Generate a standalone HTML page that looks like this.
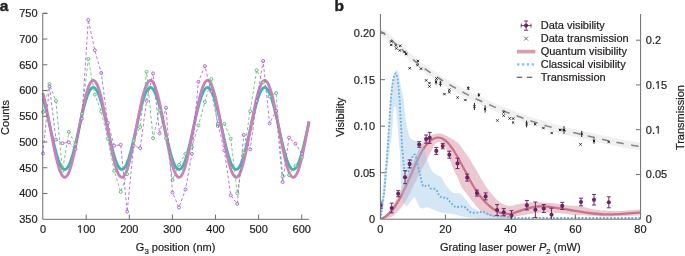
<!DOCTYPE html>
<html><head><meta charset="utf-8"><style>
html,body{margin:0;padding:0;background:#fff;}
svg{display:block;will-change:transform;}
text{font-family:"Liberation Sans",sans-serif;fill:#231f20;stroke:#231f20;stroke-width:0.22px;stroke-linejoin:round;}
</style></head><body>
<svg width="685" height="256" viewBox="0 0 685 256">
<path d="M42.90,98.36 L43.57,100.47 L44.23,102.73 L44.90,105.13 L45.56,107.65 L46.23,110.29 L46.89,113.02 L47.56,115.84 L48.22,118.72 L48.89,121.66 L49.55,124.63 L50.22,127.62 L50.88,130.62 L51.55,133.61 L52.21,136.57 L52.88,139.48 L53.54,142.34 L54.21,145.12 L54.87,147.82 L55.54,150.41 L56.20,152.88 L56.87,155.22 L57.54,157.43 L58.20,159.47 L58.87,161.35 L59.53,163.06 L60.20,164.58 L60.86,165.90 L61.53,167.03 L62.19,167.95 L62.86,168.66 L63.52,169.16 L64.19,169.44 L64.85,169.49 L65.52,169.33 L66.18,168.96 L66.85,168.36 L67.51,167.55 L68.18,166.54 L68.84,165.32 L69.51,163.90 L70.18,162.29 L70.84,160.51 L71.51,158.55 L72.17,156.43 L72.84,154.16 L73.50,151.76 L74.17,149.23 L74.83,146.59 L75.50,143.85 L76.16,141.03 L76.83,138.14 L77.49,135.21 L78.16,132.23 L78.82,129.24 L79.49,126.24 L80.15,123.26 L80.82,120.30 L81.48,117.39 L82.15,114.53 L82.81,111.75 L83.48,109.06 L84.15,106.48 L84.81,104.01 L85.48,101.67 L86.14,99.48 L86.81,97.44 L87.47,95.57 L88.14,93.87 L88.80,92.36 L89.47,91.04 L90.13,89.92 L90.80,89.01 L91.46,88.31 L92.13,87.83 L92.79,87.56 L93.46,87.51 L94.12,87.68 L94.79,88.07 L95.45,88.67 L96.12,89.49 L96.79,90.52 L97.45,91.74 L98.12,93.17 L98.78,94.79 L99.45,96.58 L100.11,98.55 L100.78,100.67 L101.44,102.95 L102.11,105.36 L102.77,107.89 L103.44,110.54 L104.10,113.28 L104.77,116.10 L105.43,118.99 L106.10,121.93 L106.76,124.91 L107.43,127.90 L108.09,130.90 L108.76,133.88 L109.43,136.84 L110.09,139.75 L110.76,142.60 L111.42,145.37 L112.09,148.06 L112.75,150.64 L113.42,153.10 L114.08,155.43 L114.75,157.62 L115.41,159.65 L116.08,161.52 L116.74,163.20 L117.41,164.71 L118.07,166.02 L118.74,167.12 L119.40,168.03 L120.07,168.72 L120.73,169.19 L121.40,169.45 L122.06,169.49 L122.73,169.31 L123.40,168.91 L124.06,168.30 L124.73,167.47 L125.39,166.43 L126.06,165.19 L126.72,163.76 L127.39,162.14 L128.05,160.33 L128.72,158.36 L129.38,156.23 L130.05,153.94 L130.71,151.53 L131.38,148.99 L132.04,146.34 L132.71,143.59 L133.37,140.77 L134.04,137.87 L134.70,134.93 L135.37,131.96 L136.03,128.96 L136.70,125.96 L137.37,122.98 L138.03,120.03 L138.70,117.12 L139.36,114.27 L140.03,111.50 L140.69,108.82 L141.36,106.24 L142.02,103.79 L142.69,101.46 L143.35,99.28 L144.02,97.26 L144.68,95.40 L145.35,93.72 L146.01,92.23 L146.68,90.93 L147.34,89.83 L148.01,88.94 L148.67,88.26 L149.34,87.79 L150.01,87.54 L150.67,87.51 L151.34,87.71 L152.00,88.11 L152.67,88.74 L153.33,89.58 L154.00,90.62 L154.66,91.87 L155.33,93.31 L155.99,94.94 L156.66,96.76 L157.32,98.74 L157.99,100.88 L158.65,103.16 L159.32,105.59 L159.98,108.13 L160.65,110.79 L161.31,113.54 L161.98,116.37 L162.65,119.26 L163.31,122.20 L163.98,125.18 L164.64,128.18 L165.31,131.17 L165.97,134.16 L166.64,137.11 L167.30,140.01 L167.97,142.86 L168.63,145.63 L169.30,148.30 L169.96,150.87 L170.63,153.32 L171.29,155.64 L171.96,157.82 L172.62,159.83 L173.29,161.68 L173.95,163.35 L174.62,164.84 L175.28,166.13 L175.95,167.22 L176.62,168.10 L177.28,168.77 L177.95,169.22 L178.61,169.46 L179.28,169.48 L179.94,169.28 L180.61,168.86 L181.27,168.23 L181.94,167.38 L182.60,166.33 L183.27,165.07 L183.93,163.62 L184.60,161.98 L185.26,160.16 L185.93,158.17 L186.59,156.02 L187.26,153.73 L187.92,151.30 L188.59,148.75 L189.26,146.09 L189.92,143.33 L190.59,140.50 L191.25,137.60 L191.92,134.66 L192.58,131.68 L193.25,128.68 L193.91,125.69 L194.58,122.71 L195.24,119.76 L195.91,116.85 L196.57,114.01 L197.24,111.25 L197.90,108.58 L198.57,106.01 L199.23,103.57 L199.90,101.25 L200.56,99.09 L201.23,97.08 L201.89,95.24 L202.56,93.58 L203.23,92.10 L203.89,90.82 L204.56,89.74 L205.22,88.87 L205.89,88.20 L206.55,87.76 L207.22,87.53 L207.88,87.52 L208.55,87.73 L209.21,88.16 L209.88,88.81 L210.54,89.66 L211.21,90.73 L211.87,91.99 L212.54,93.46 L213.20,95.10 L213.87,96.93 L214.53,98.93 L215.20,101.08 L215.87,103.38 L216.53,105.82 L217.20,108.37 L217.86,111.04 L218.53,113.80 L219.19,116.63 L219.86,119.53 L220.52,122.48 L221.19,125.46 L221.85,128.45 L222.52,131.45 L223.18,134.43 L223.85,137.38 L224.51,140.28 L225.18,143.12 L225.84,145.88 L226.51,148.55 L227.17,151.11 L227.84,153.54 L228.50,155.85 L229.17,158.01 L229.84,160.01 L230.50,161.84 L231.17,163.50 L231.83,164.96 L232.50,166.24 L233.16,167.31 L233.83,168.17 L234.49,168.82 L235.16,169.26 L235.82,169.47 L236.49,169.47 L237.15,169.25 L237.82,168.81 L238.48,168.16 L239.15,167.29 L239.81,166.22 L240.48,164.94 L241.14,163.47 L241.81,161.82 L242.47,159.98 L243.14,157.98 L243.81,155.82 L244.47,153.51 L245.14,151.07 L245.80,148.51 L246.47,145.84 L247.13,143.08 L247.80,140.24 L248.46,137.33 L249.13,134.38 L249.79,131.40 L250.46,128.41 L251.12,125.41 L251.79,122.43 L252.45,119.49 L253.12,116.59 L253.78,113.75 L254.45,111.00 L255.11,108.33 L255.78,105.78 L256.45,103.35 L257.11,101.05 L257.78,98.90 L258.44,96.90 L259.11,95.08 L259.77,93.43 L260.44,91.97 L261.10,90.71 L261.77,89.65 L262.43,88.80 L263.10,88.15 L263.76,87.73 L264.43,87.52 L265.09,87.53 L265.76,87.76 L266.42,88.21 L267.09,88.88 L267.75,89.75 L268.42,90.84 L269.09,92.12 L269.75,93.60 L270.42,95.27 L271.08,97.11 L271.75,99.12 L272.41,101.29 L273.08,103.60 L273.74,106.05 L274.41,108.62 L275.07,111.29 L275.74,114.05 L276.40,116.90 L277.07,119.80 L277.73,122.75 L278.40,125.73 L279.06,128.73 L279.73,131.73 L280.39,134.70 L281.06,137.65 L281.72,140.55 L282.39,143.38 L283.06,146.13 L283.72,148.79 L284.39,151.34 L285.05,153.76 L285.72,156.06 L286.38,158.20 L287.05,160.19 L287.71,162.00 L288.38,163.64 L289.04,165.09 L289.71,166.34 L290.37,167.40 L291.04,168.24 L291.70,168.87 L292.37,169.29 L293.03,169.48 L293.70,169.46 L294.36,169.22 L295.03,168.76 L295.70,168.09 L296.36,167.20 L297.03,166.11 L297.69,164.82 L298.36,163.33 L299.02,161.65 L299.69,159.80 L300.35,157.78 L301.02,155.61 L301.68,153.29 L302.35,150.83 L303.01,148.26 L303.68,145.58 L304.34,142.82 L305.01,139.97 L305.67,137.06 L306.34,134.11 L307.00,131.13 L307.67,128.13 L308.33,125.14 L309.00,122.16" fill="none" stroke="#3db4b0" stroke-width="2.8"/>
<path d="M42.90,93.23 L43.57,95.73 L44.23,98.40 L44.90,101.23 L45.56,104.22 L46.23,107.33 L46.89,110.56 L47.56,113.89 L48.22,117.29 L48.89,120.76 L49.55,124.28 L50.22,127.81 L50.88,131.36 L51.55,134.88 L52.21,138.38 L52.88,141.83 L53.54,145.20 L54.21,148.49 L54.87,151.68 L55.54,154.74 L56.20,157.66 L56.87,160.43 L57.54,163.03 L58.20,165.45 L58.87,167.67 L59.53,169.69 L60.20,171.48 L60.86,173.05 L61.53,174.38 L62.19,175.47 L62.86,176.31 L63.52,176.89 L64.19,177.22 L64.85,177.29 L65.52,177.10 L66.18,176.66 L66.85,175.95 L67.51,175.00 L68.18,173.80 L68.84,172.36 L69.51,170.68 L70.18,168.78 L70.84,166.67 L71.51,164.36 L72.17,161.85 L72.84,159.17 L73.50,156.33 L74.17,153.34 L74.83,150.22 L75.50,146.99 L76.16,143.66 L76.83,140.25 L77.49,136.77 L78.16,133.26 L78.82,129.72 L79.49,126.18 L80.15,122.65 L80.82,119.16 L81.48,115.72 L82.15,112.34 L82.81,109.06 L83.48,105.88 L84.15,102.82 L84.81,99.91 L85.48,97.15 L86.14,94.55 L86.81,92.14 L87.47,89.93 L88.14,87.93 L88.80,86.14 L89.47,84.58 L90.13,83.26 L90.80,82.19 L91.46,81.36 L92.13,80.78 L92.79,80.47 L93.46,80.41 L94.12,80.61 L94.79,81.07 L95.45,81.78 L96.12,82.75 L96.79,83.96 L97.45,85.42 L98.12,87.10 L98.78,89.01 L99.45,91.13 L100.11,93.45 L100.78,95.97 L101.44,98.65 L102.11,101.50 L102.77,104.50 L103.44,107.62 L104.10,110.86 L104.77,114.20 L105.43,117.61 L106.10,121.09 L106.76,124.60 L107.43,128.14 L108.09,131.68 L108.76,135.21 L109.43,138.70 L110.09,142.14 L110.76,145.51 L111.42,148.79 L112.09,151.96 L112.75,155.01 L113.42,157.92 L114.08,160.68 L114.75,163.26 L115.41,165.66 L116.08,167.87 L116.74,169.86 L117.41,171.64 L118.07,173.18 L118.74,174.49 L119.40,175.56 L120.07,176.37 L120.73,176.94 L121.40,177.24 L122.06,177.29 L122.73,177.07 L123.40,176.60 L124.06,175.88 L124.73,174.90 L125.39,173.67 L126.06,172.21 L126.72,170.52 L127.39,168.60 L128.05,166.47 L128.72,164.13 L129.38,161.61 L130.05,158.92 L130.71,156.06 L131.38,153.06 L132.04,149.93 L132.71,146.68 L133.37,143.34 L134.04,139.93 L134.70,136.45 L135.37,132.93 L136.03,129.40 L136.70,125.85 L137.37,122.33 L138.03,118.84 L138.70,115.40 L139.36,112.04 L140.03,108.76 L140.69,105.59 L141.36,102.55 L142.02,99.65 L142.69,96.90 L143.35,94.32 L144.02,91.93 L144.68,89.74 L145.35,87.75 L146.01,85.99 L146.68,84.45 L147.34,83.15 L148.01,82.10 L148.67,81.29 L149.34,80.74 L150.01,80.45 L150.67,80.42 L151.34,80.64 L152.00,81.13 L152.67,81.86 L153.33,82.85 L154.00,84.09 L154.66,85.56 L155.33,87.27 L155.99,89.20 L156.66,91.34 L157.32,93.68 L157.99,96.21 L158.65,98.91 L159.32,101.77 L159.98,104.78 L160.65,107.92 L161.31,111.17 L161.98,114.51 L162.65,117.93 L163.31,121.41 L163.98,124.93 L164.64,128.47 L165.31,132.01 L165.97,135.53 L166.64,139.02 L167.30,142.46 L167.97,145.82 L168.63,149.09 L169.30,152.25 L169.96,155.29 L170.63,158.19 L171.29,160.92 L171.96,163.49 L172.62,165.87 L173.29,168.06 L173.95,170.03 L174.62,171.79 L175.28,173.31 L175.95,174.60 L176.62,175.64 L177.28,176.44 L177.95,176.97 L178.61,177.26 L179.28,177.28 L179.94,177.04 L180.61,176.55 L181.27,175.80 L181.94,174.80 L182.60,173.55 L183.27,172.06 L183.93,170.35 L184.60,168.41 L185.26,166.26 L185.93,163.91 L186.59,161.37 L187.26,158.66 L187.92,155.79 L188.59,152.78 L189.26,149.63 L189.92,146.38 L190.59,143.03 L191.25,139.61 L191.92,136.13 L192.58,132.61 L193.25,129.07 L193.91,125.53 L194.58,122.00 L195.24,118.52 L195.91,115.09 L196.57,111.73 L197.24,108.46 L197.90,105.31 L198.57,102.27 L199.23,99.38 L199.90,96.65 L200.56,94.09 L201.23,91.72 L201.89,89.54 L202.56,87.58 L203.23,85.84 L203.89,84.32 L204.56,83.04 L205.22,82.01 L205.89,81.23 L206.55,80.71 L207.22,80.44 L207.88,80.43 L208.55,80.68 L209.21,81.18 L209.88,81.94 L210.54,82.96 L211.21,84.21 L211.87,85.71 L212.54,87.44 L213.20,89.39 L213.87,91.54 L214.53,93.90 L215.20,96.45 L215.87,99.17 L216.53,102.05 L217.20,105.07 L217.86,108.21 L218.53,111.47 L219.19,114.82 L219.86,118.25 L220.52,121.73 L221.19,125.26 L221.85,128.80 L222.52,132.34 L223.18,135.86 L223.85,139.34 L224.51,142.77 L225.18,146.12 L225.84,149.39 L226.51,152.54 L227.17,155.56 L227.84,158.45 L228.50,161.17 L229.17,163.72 L229.84,166.09 L230.50,168.25 L231.17,170.21 L231.83,171.94 L232.50,173.44 L233.16,174.71 L233.83,175.73 L234.49,176.50 L235.16,177.01 L235.82,177.27 L236.49,177.27 L237.15,177.01 L237.82,176.49 L238.48,175.71 L239.15,174.69 L239.81,173.42 L240.48,171.91 L241.14,170.18 L241.81,168.22 L242.47,166.05 L243.14,163.68 L243.81,161.13 L244.47,158.40 L245.14,155.52 L245.80,152.49 L246.47,149.34 L247.13,146.07 L247.80,142.72 L248.46,139.29 L249.13,135.80 L249.79,132.28 L250.46,128.74 L251.12,125.20 L251.79,121.68 L252.45,118.20 L253.12,114.77 L253.78,111.42 L254.45,108.17 L255.11,105.02 L255.78,102.00 L256.45,99.13 L257.11,96.41 L257.78,93.87 L258.44,91.51 L259.11,89.35 L259.77,87.41 L260.44,85.69 L261.10,84.19 L261.77,82.94 L262.43,81.93 L263.10,81.17 L263.76,80.67 L264.43,80.43 L265.09,80.44 L265.76,80.71 L266.42,81.24 L267.09,82.03 L267.75,83.06 L268.42,84.34 L269.09,85.86 L269.75,87.61 L270.42,89.58 L271.08,91.75 L271.75,94.13 L272.41,96.69 L273.08,99.43 L273.74,102.32 L274.41,105.35 L275.07,108.51 L275.74,111.78 L276.40,115.14 L277.07,118.57 L277.73,122.06 L278.40,125.58 L279.06,129.12 L279.73,132.66 L280.39,136.18 L281.06,139.66 L281.72,143.08 L282.39,146.43 L283.06,149.68 L283.72,152.82 L284.39,155.84 L285.05,158.70 L285.72,161.41 L286.38,163.95 L287.05,166.29 L287.71,168.44 L288.38,170.38 L289.04,172.09 L289.71,173.57 L290.37,174.81 L291.04,175.81 L291.70,176.56 L292.37,177.05 L293.03,177.28 L293.70,177.25 L294.36,176.97 L295.03,176.43 L295.70,175.63 L296.36,174.58 L297.03,173.29 L297.69,171.76 L298.36,170.01 L299.02,168.03 L299.69,165.84 L300.35,163.45 L301.02,160.88 L301.68,158.14 L302.35,155.24 L303.01,152.20 L303.68,149.04 L304.34,145.77 L305.01,142.40 L305.67,138.97 L306.34,135.48 L307.00,131.95 L307.67,128.41 L308.33,124.87 L309.00,121.36" fill="none" stroke="#c881b9" stroke-width="2.8"/>
<polyline points="43.00,112.00 49.48,84.00 55.95,101.00 62.42,170.80 68.90,131.90 75.38,144.30 81.85,113.80 88.32,59.00 94.80,94.60 101.28,111.60 107.75,138.60 114.22,170.80 120.70,191.90 127.17,174.10 133.65,140.70 140.12,127.00 146.60,71.80 153.07,138.20 159.55,110.20 166.02,138.20 172.50,180.00 178.97,164.80 185.45,153.80 191.92,147.20 198.40,125.40 204.88,102.10 211.35,79.00 217.82,126.00 224.30,123.80 230.77,138.60 237.25,193.30 243.72,152.60 250.20,111.20 256.67,70.20 263.15,82.40 269.62,96.60 276.10,93.00 282.57,176.60 289.05,175.00 295.52,165.80 302.00,157.30" fill="none" stroke="#68bb77" stroke-width="0.85" stroke-dasharray="3 2.2"/>
<circle cx="43.00" cy="112.00" r="1.5" fill="#fff" fill-opacity="0.5" stroke="#68bb77" stroke-width="0.95"/>
<circle cx="49.48" cy="84.00" r="1.5" fill="#fff" fill-opacity="0.5" stroke="#68bb77" stroke-width="0.95"/>
<circle cx="55.95" cy="101.00" r="1.5" fill="#fff" fill-opacity="0.5" stroke="#68bb77" stroke-width="0.95"/>
<circle cx="62.42" cy="170.80" r="1.5" fill="#fff" fill-opacity="0.5" stroke="#68bb77" stroke-width="0.95"/>
<circle cx="68.90" cy="131.90" r="1.5" fill="#fff" fill-opacity="0.5" stroke="#68bb77" stroke-width="0.95"/>
<circle cx="75.38" cy="144.30" r="1.5" fill="#fff" fill-opacity="0.5" stroke="#68bb77" stroke-width="0.95"/>
<circle cx="81.85" cy="113.80" r="1.5" fill="#fff" fill-opacity="0.5" stroke="#68bb77" stroke-width="0.95"/>
<circle cx="88.32" cy="59.00" r="1.5" fill="#fff" fill-opacity="0.5" stroke="#68bb77" stroke-width="0.95"/>
<circle cx="94.80" cy="94.60" r="1.5" fill="#fff" fill-opacity="0.5" stroke="#68bb77" stroke-width="0.95"/>
<circle cx="101.28" cy="111.60" r="1.5" fill="#fff" fill-opacity="0.5" stroke="#68bb77" stroke-width="0.95"/>
<circle cx="107.75" cy="138.60" r="1.5" fill="#fff" fill-opacity="0.5" stroke="#68bb77" stroke-width="0.95"/>
<circle cx="114.22" cy="170.80" r="1.5" fill="#fff" fill-opacity="0.5" stroke="#68bb77" stroke-width="0.95"/>
<circle cx="120.70" cy="191.90" r="1.5" fill="#fff" fill-opacity="0.5" stroke="#68bb77" stroke-width="0.95"/>
<circle cx="127.17" cy="174.10" r="1.5" fill="#fff" fill-opacity="0.5" stroke="#68bb77" stroke-width="0.95"/>
<circle cx="133.65" cy="140.70" r="1.5" fill="#fff" fill-opacity="0.5" stroke="#68bb77" stroke-width="0.95"/>
<circle cx="140.12" cy="127.00" r="1.5" fill="#fff" fill-opacity="0.5" stroke="#68bb77" stroke-width="0.95"/>
<circle cx="146.60" cy="71.80" r="1.5" fill="#fff" fill-opacity="0.5" stroke="#68bb77" stroke-width="0.95"/>
<circle cx="153.07" cy="138.20" r="1.5" fill="#fff" fill-opacity="0.5" stroke="#68bb77" stroke-width="0.95"/>
<circle cx="159.55" cy="110.20" r="1.5" fill="#fff" fill-opacity="0.5" stroke="#68bb77" stroke-width="0.95"/>
<circle cx="166.02" cy="138.20" r="1.5" fill="#fff" fill-opacity="0.5" stroke="#68bb77" stroke-width="0.95"/>
<circle cx="172.50" cy="180.00" r="1.5" fill="#fff" fill-opacity="0.5" stroke="#68bb77" stroke-width="0.95"/>
<circle cx="178.97" cy="164.80" r="1.5" fill="#fff" fill-opacity="0.5" stroke="#68bb77" stroke-width="0.95"/>
<circle cx="185.45" cy="153.80" r="1.5" fill="#fff" fill-opacity="0.5" stroke="#68bb77" stroke-width="0.95"/>
<circle cx="191.92" cy="147.20" r="1.5" fill="#fff" fill-opacity="0.5" stroke="#68bb77" stroke-width="0.95"/>
<circle cx="198.40" cy="125.40" r="1.5" fill="#fff" fill-opacity="0.5" stroke="#68bb77" stroke-width="0.95"/>
<circle cx="204.88" cy="102.10" r="1.5" fill="#fff" fill-opacity="0.5" stroke="#68bb77" stroke-width="0.95"/>
<circle cx="211.35" cy="79.00" r="1.5" fill="#fff" fill-opacity="0.5" stroke="#68bb77" stroke-width="0.95"/>
<circle cx="217.82" cy="126.00" r="1.5" fill="#fff" fill-opacity="0.5" stroke="#68bb77" stroke-width="0.95"/>
<circle cx="224.30" cy="123.80" r="1.5" fill="#fff" fill-opacity="0.5" stroke="#68bb77" stroke-width="0.95"/>
<circle cx="230.77" cy="138.60" r="1.5" fill="#fff" fill-opacity="0.5" stroke="#68bb77" stroke-width="0.95"/>
<circle cx="237.25" cy="193.30" r="1.5" fill="#fff" fill-opacity="0.5" stroke="#68bb77" stroke-width="0.95"/>
<circle cx="243.72" cy="152.60" r="1.5" fill="#fff" fill-opacity="0.5" stroke="#68bb77" stroke-width="0.95"/>
<circle cx="250.20" cy="111.20" r="1.5" fill="#fff" fill-opacity="0.5" stroke="#68bb77" stroke-width="0.95"/>
<circle cx="256.67" cy="70.20" r="1.5" fill="#fff" fill-opacity="0.5" stroke="#68bb77" stroke-width="0.95"/>
<circle cx="263.15" cy="82.40" r="1.5" fill="#fff" fill-opacity="0.5" stroke="#68bb77" stroke-width="0.95"/>
<circle cx="269.62" cy="96.60" r="1.5" fill="#fff" fill-opacity="0.5" stroke="#68bb77" stroke-width="0.95"/>
<circle cx="276.10" cy="93.00" r="1.5" fill="#fff" fill-opacity="0.5" stroke="#68bb77" stroke-width="0.95"/>
<circle cx="282.57" cy="176.60" r="1.5" fill="#fff" fill-opacity="0.5" stroke="#68bb77" stroke-width="0.95"/>
<circle cx="289.05" cy="175.00" r="1.5" fill="#fff" fill-opacity="0.5" stroke="#68bb77" stroke-width="0.95"/>
<circle cx="295.52" cy="165.80" r="1.5" fill="#fff" fill-opacity="0.5" stroke="#68bb77" stroke-width="0.95"/>
<circle cx="302.00" cy="157.30" r="1.5" fill="#fff" fill-opacity="0.5" stroke="#68bb77" stroke-width="0.95"/>
<polyline points="43.00,153.50 49.48,86.50 55.95,139.60 62.42,143.30 68.90,142.30 75.38,149.20 81.85,118.70 88.32,19.80 94.80,50.20 101.28,73.00 107.75,122.80 114.22,145.70 120.70,144.70 127.17,211.60 133.65,145.70 140.12,148.20 146.60,100.80 153.07,73.40 159.55,133.50 166.02,107.70 172.50,192.50 178.97,207.50 185.45,189.50 191.92,153.80 198.40,81.80 204.88,66.10 211.35,91.50 217.82,123.80 224.30,150.50 230.77,195.30 237.25,203.90 243.72,135.00 250.20,149.30 256.67,101.00 263.15,61.00 269.62,123.40 276.10,110.80 282.57,182.00 289.05,137.60 295.52,143.70 302.00,153.80" fill="none" stroke="#a866d6" stroke-width="0.85" stroke-dasharray="3 2.2"/>
<circle cx="43.00" cy="153.50" r="1.5" fill="#fff" fill-opacity="0.5" stroke="#a866d6" stroke-width="0.95"/>
<circle cx="49.48" cy="86.50" r="1.5" fill="#fff" fill-opacity="0.5" stroke="#a866d6" stroke-width="0.95"/>
<circle cx="55.95" cy="139.60" r="1.5" fill="#fff" fill-opacity="0.5" stroke="#a866d6" stroke-width="0.95"/>
<circle cx="62.42" cy="143.30" r="1.5" fill="#fff" fill-opacity="0.5" stroke="#a866d6" stroke-width="0.95"/>
<circle cx="68.90" cy="142.30" r="1.5" fill="#fff" fill-opacity="0.5" stroke="#a866d6" stroke-width="0.95"/>
<circle cx="75.38" cy="149.20" r="1.5" fill="#fff" fill-opacity="0.5" stroke="#a866d6" stroke-width="0.95"/>
<circle cx="81.85" cy="118.70" r="1.5" fill="#fff" fill-opacity="0.5" stroke="#a866d6" stroke-width="0.95"/>
<circle cx="88.32" cy="19.80" r="1.5" fill="#fff" fill-opacity="0.5" stroke="#a866d6" stroke-width="0.95"/>
<circle cx="94.80" cy="50.20" r="1.5" fill="#fff" fill-opacity="0.5" stroke="#a866d6" stroke-width="0.95"/>
<circle cx="101.28" cy="73.00" r="1.5" fill="#fff" fill-opacity="0.5" stroke="#a866d6" stroke-width="0.95"/>
<circle cx="107.75" cy="122.80" r="1.5" fill="#fff" fill-opacity="0.5" stroke="#a866d6" stroke-width="0.95"/>
<circle cx="114.22" cy="145.70" r="1.5" fill="#fff" fill-opacity="0.5" stroke="#a866d6" stroke-width="0.95"/>
<circle cx="120.70" cy="144.70" r="1.5" fill="#fff" fill-opacity="0.5" stroke="#a866d6" stroke-width="0.95"/>
<circle cx="127.17" cy="211.60" r="1.5" fill="#fff" fill-opacity="0.5" stroke="#a866d6" stroke-width="0.95"/>
<circle cx="133.65" cy="145.70" r="1.5" fill="#fff" fill-opacity="0.5" stroke="#a866d6" stroke-width="0.95"/>
<circle cx="140.12" cy="148.20" r="1.5" fill="#fff" fill-opacity="0.5" stroke="#a866d6" stroke-width="0.95"/>
<circle cx="146.60" cy="100.80" r="1.5" fill="#fff" fill-opacity="0.5" stroke="#a866d6" stroke-width="0.95"/>
<circle cx="153.07" cy="73.40" r="1.5" fill="#fff" fill-opacity="0.5" stroke="#a866d6" stroke-width="0.95"/>
<circle cx="159.55" cy="133.50" r="1.5" fill="#fff" fill-opacity="0.5" stroke="#a866d6" stroke-width="0.95"/>
<circle cx="166.02" cy="107.70" r="1.5" fill="#fff" fill-opacity="0.5" stroke="#a866d6" stroke-width="0.95"/>
<circle cx="172.50" cy="192.50" r="1.5" fill="#fff" fill-opacity="0.5" stroke="#a866d6" stroke-width="0.95"/>
<circle cx="178.97" cy="207.50" r="1.5" fill="#fff" fill-opacity="0.5" stroke="#a866d6" stroke-width="0.95"/>
<circle cx="185.45" cy="189.50" r="1.5" fill="#fff" fill-opacity="0.5" stroke="#a866d6" stroke-width="0.95"/>
<circle cx="191.92" cy="153.80" r="1.5" fill="#fff" fill-opacity="0.5" stroke="#a866d6" stroke-width="0.95"/>
<circle cx="198.40" cy="81.80" r="1.5" fill="#fff" fill-opacity="0.5" stroke="#a866d6" stroke-width="0.95"/>
<circle cx="204.88" cy="66.10" r="1.5" fill="#fff" fill-opacity="0.5" stroke="#a866d6" stroke-width="0.95"/>
<circle cx="211.35" cy="91.50" r="1.5" fill="#fff" fill-opacity="0.5" stroke="#a866d6" stroke-width="0.95"/>
<circle cx="217.82" cy="123.80" r="1.5" fill="#fff" fill-opacity="0.5" stroke="#a866d6" stroke-width="0.95"/>
<circle cx="224.30" cy="150.50" r="1.5" fill="#fff" fill-opacity="0.5" stroke="#a866d6" stroke-width="0.95"/>
<circle cx="230.77" cy="195.30" r="1.5" fill="#fff" fill-opacity="0.5" stroke="#a866d6" stroke-width="0.95"/>
<circle cx="237.25" cy="203.90" r="1.5" fill="#fff" fill-opacity="0.5" stroke="#a866d6" stroke-width="0.95"/>
<circle cx="243.72" cy="135.00" r="1.5" fill="#fff" fill-opacity="0.5" stroke="#a866d6" stroke-width="0.95"/>
<circle cx="250.20" cy="149.30" r="1.5" fill="#fff" fill-opacity="0.5" stroke="#a866d6" stroke-width="0.95"/>
<circle cx="256.67" cy="101.00" r="1.5" fill="#fff" fill-opacity="0.5" stroke="#a866d6" stroke-width="0.95"/>
<circle cx="263.15" cy="61.00" r="1.5" fill="#fff" fill-opacity="0.5" stroke="#a866d6" stroke-width="0.95"/>
<circle cx="269.62" cy="123.40" r="1.5" fill="#fff" fill-opacity="0.5" stroke="#a866d6" stroke-width="0.95"/>
<circle cx="276.10" cy="110.80" r="1.5" fill="#fff" fill-opacity="0.5" stroke="#a866d6" stroke-width="0.95"/>
<circle cx="282.57" cy="182.00" r="1.5" fill="#fff" fill-opacity="0.5" stroke="#a866d6" stroke-width="0.95"/>
<circle cx="289.05" cy="137.60" r="1.5" fill="#fff" fill-opacity="0.5" stroke="#a866d6" stroke-width="0.95"/>
<circle cx="295.52" cy="143.70" r="1.5" fill="#fff" fill-opacity="0.5" stroke="#a866d6" stroke-width="0.95"/>
<circle cx="302.00" cy="153.80" r="1.5" fill="#fff" fill-opacity="0.5" stroke="#a866d6" stroke-width="0.95"/>
<path d="M47.4,13.3 H42.75 V219.3 H308.9" fill="none" stroke="#6e6e6e" stroke-width="1"/>
<line x1="42.75" y1="193.48" x2="47.4" y2="193.48" stroke="#6e6e6e" stroke-width="1"/>
<line x1="42.75" y1="167.74" x2="47.4" y2="167.74" stroke="#6e6e6e" stroke-width="1"/>
<line x1="42.75" y1="142.00" x2="47.4" y2="142.00" stroke="#6e6e6e" stroke-width="1"/>
<line x1="42.75" y1="116.26" x2="47.4" y2="116.26" stroke="#6e6e6e" stroke-width="1"/>
<line x1="42.75" y1="90.52" x2="47.4" y2="90.52" stroke="#6e6e6e" stroke-width="1"/>
<line x1="42.75" y1="64.78" x2="47.4" y2="64.78" stroke="#6e6e6e" stroke-width="1"/>
<line x1="42.75" y1="39.04" x2="47.4" y2="39.04" stroke="#6e6e6e" stroke-width="1"/>
<line x1="42.75" y1="13.30" x2="47.4" y2="13.30" stroke="#6e6e6e" stroke-width="1"/>
<line x1="86.21" y1="219.3" x2="86.21" y2="214.6" stroke="#6e6e6e" stroke-width="1"/>
<line x1="129.32" y1="219.3" x2="129.32" y2="214.6" stroke="#6e6e6e" stroke-width="1"/>
<line x1="172.43" y1="219.3" x2="172.43" y2="214.6" stroke="#6e6e6e" stroke-width="1"/>
<line x1="215.54" y1="219.3" x2="215.54" y2="214.6" stroke="#6e6e6e" stroke-width="1"/>
<line x1="258.65" y1="219.3" x2="258.65" y2="214.6" stroke="#6e6e6e" stroke-width="1"/>
<line x1="301.76" y1="219.3" x2="301.76" y2="214.6" stroke="#6e6e6e" stroke-width="1"/>
<defs><clipPath id="cb"><rect x="380.4" y="0" width="260.2" height="219.3"/></clipPath></defs><g clip-path="url(#cb)">
<path d="M380.50,27.40 C381.35,28.00 383.68,29.45 385.60,31.00 C387.52,32.55 389.93,34.85 392.00,36.70 C394.07,38.55 395.92,40.23 398.00,42.10 C400.08,43.97 401.58,45.30 404.50,47.90 C407.42,50.50 411.62,54.53 415.50,57.70 C419.38,60.87 423.72,64.00 427.80,66.90 C431.88,69.80 435.90,72.52 440.00,75.10 C444.10,77.68 448.13,79.97 452.40,82.40 C456.67,84.83 461.25,87.42 465.60,89.70 C469.95,91.98 474.10,94.05 478.50,96.10 C482.90,98.15 487.50,100.05 492.00,102.00 C496.50,103.95 500.93,105.98 505.50,107.80 C510.07,109.62 514.82,111.25 519.40,112.90 C523.98,114.55 528.38,116.15 533.00,117.70 C537.62,119.25 542.35,120.83 547.10,122.20 C551.85,123.57 556.77,124.73 561.50,125.90 C566.23,127.07 570.77,128.10 575.50,129.20 C580.23,130.30 585.15,131.40 589.90,132.50 C594.65,133.60 599.40,134.77 604.00,135.80 C608.60,136.83 612.85,137.78 617.50,138.70 C622.15,139.62 628.07,140.63 631.90,141.30 C635.73,141.97 639.07,142.47 640.50,142.70 L640.50,150.50 C639.07,150.27 635.73,149.77 631.90,149.10 C628.07,148.43 622.15,147.42 617.50,146.50 C612.85,145.58 608.60,144.63 604.00,143.60 C599.40,142.57 594.65,141.40 589.90,140.30 C585.15,139.20 580.23,138.10 575.50,137.00 C570.77,135.90 566.23,134.87 561.50,133.70 C556.77,132.53 551.85,131.37 547.10,130.00 C542.35,128.63 537.62,127.05 533.00,125.50 C528.38,123.95 523.98,122.35 519.40,120.70 C514.82,119.05 510.07,117.42 505.50,115.60 C500.93,113.78 496.50,111.75 492.00,109.80 C487.50,107.85 482.90,105.95 478.50,103.90 C474.10,101.85 469.95,99.78 465.60,97.50 C461.25,95.22 456.67,92.63 452.40,90.20 C448.13,87.77 444.10,85.48 440.00,82.90 C435.90,80.32 431.88,77.60 427.80,74.70 C423.72,71.80 419.38,68.67 415.50,65.50 C411.62,62.33 407.42,58.30 404.50,55.70 C401.58,53.10 400.08,51.77 398.00,49.90 C395.92,48.03 394.07,46.35 392.00,44.50 C389.93,42.65 387.52,40.35 385.60,38.80 C383.68,37.25 381.35,35.80 380.50,35.20 Z" fill="#f0f0f0"/>
<path d="M380.50,219.00 C381.08,218.58 382.75,217.58 384.00,216.50 C385.25,215.42 386.67,214.00 388.00,212.50 C389.33,211.00 390.83,209.25 392.00,207.50 C393.17,205.75 394.03,203.83 395.00,202.00 C395.97,200.17 396.68,198.83 397.80,196.50 C398.92,194.17 400.50,190.67 401.70,188.00 C402.90,185.33 403.87,183.08 405.00,180.50 C406.13,177.92 407.38,175.08 408.50,172.50 C409.62,169.92 410.75,167.17 411.70,165.00 C412.65,162.83 413.28,161.53 414.20,159.50 C415.12,157.47 416.15,154.98 417.20,152.80 C418.25,150.62 419.37,148.37 420.50,146.40 C421.63,144.43 422.75,142.57 424.00,141.00 C425.25,139.43 426.67,138.03 428.00,137.00 C429.33,135.97 430.67,135.33 432.00,134.80 C433.33,134.27 434.67,134.02 436.00,133.80 C437.33,133.58 438.50,133.30 440.00,133.50 C441.50,133.70 443.25,134.27 445.00,135.00 C446.75,135.73 448.40,136.65 450.50,137.90 C452.60,139.15 455.52,140.57 457.60,142.50 C459.68,144.43 461.12,146.95 463.00,149.50 C464.88,152.05 467.13,155.12 468.90,157.80 C470.67,160.48 472.03,163.00 473.60,165.60 C475.17,168.20 476.90,171.00 478.30,173.40 C479.70,175.80 480.72,177.82 482.00,180.00 C483.28,182.18 484.67,184.50 486.00,186.50 C487.33,188.50 488.38,190.00 490.00,192.00 C491.62,194.00 494.03,196.78 495.70,198.50 C497.37,200.22 498.65,201.32 500.00,202.30 C501.35,203.28 502.34,203.82 503.80,204.40 C505.26,204.98 507.05,205.67 508.75,205.80 C510.45,205.93 511.92,205.58 514.00,205.20 C516.08,204.82 518.38,203.95 521.25,203.50 C524.12,203.05 527.50,202.67 531.25,202.50 C535.00,202.33 539.79,202.33 543.75,202.50 C547.71,202.67 552.29,203.17 555.00,203.50 C557.71,203.83 557.50,204.15 560.00,204.50 C562.50,204.85 566.38,205.25 570.00,205.60 C573.62,205.95 578.37,206.12 581.70,206.60 C585.03,207.08 587.35,207.92 590.00,208.50 C592.65,209.08 594.17,209.68 597.60,210.10 C601.03,210.52 606.03,210.90 610.60,211.00 C615.17,211.10 620.03,210.93 625.00,210.70 C629.97,210.47 637.83,209.78 640.40,209.60 L640.40,215.30 C637.83,215.43 631.17,215.90 625.00,216.10 C618.83,216.30 610.62,216.63 603.40,216.50 C596.18,216.37 587.27,215.65 581.70,215.30 C576.13,214.95 573.62,214.73 570.00,214.40 C566.38,214.07 562.50,213.52 560.00,213.30 C557.50,213.08 557.71,213.23 555.00,213.10 C552.29,212.97 547.71,212.39 543.75,212.50 C539.79,212.61 535.00,213.23 531.25,213.75 C527.50,214.27 523.79,215.14 521.25,215.60 C518.71,216.06 518.58,216.13 516.00,216.50 C513.42,216.87 509.18,217.68 505.80,217.80 C502.42,217.92 498.33,217.50 495.70,217.20 C493.07,216.90 491.70,216.50 490.00,216.00 C488.30,215.50 487.00,214.98 485.50,214.20 C484.00,213.42 482.35,212.40 481.00,211.30 C479.65,210.20 478.57,208.93 477.40,207.60 C476.23,206.27 475.18,204.82 474.00,203.30 C472.82,201.78 471.70,200.30 470.30,198.50 C468.90,196.70 467.00,194.33 465.60,192.50 C464.20,190.67 463.17,189.83 461.90,187.50 C460.63,185.17 458.98,180.67 458.00,178.50 C457.02,176.33 456.72,175.92 456.00,174.50 C455.28,173.08 454.55,172.00 453.70,170.00 C452.85,168.00 451.77,164.92 450.90,162.50 C450.03,160.08 449.28,157.75 448.50,155.50 C447.72,153.25 447.07,151.00 446.20,149.00 C445.33,147.00 444.33,144.67 443.30,143.50 C442.27,142.33 441.05,142.15 440.00,142.00 C438.95,141.85 437.98,142.02 437.00,142.60 C436.02,143.18 435.01,144.18 434.12,145.50 C433.23,146.82 432.67,148.50 431.65,150.50 C430.63,152.50 429.26,155.08 428.00,157.50 C426.74,159.92 425.40,162.50 424.10,165.00 C422.80,167.50 421.47,170.00 420.20,172.50 C418.93,175.00 417.62,177.83 416.50,180.00 C415.38,182.17 414.50,183.50 413.50,185.50 C412.50,187.50 411.70,189.58 410.50,192.00 C409.30,194.42 407.84,197.42 406.29,200.00 C404.74,202.58 402.74,205.42 401.19,207.50 C399.64,209.58 398.53,210.98 397.00,212.50 C395.47,214.02 393.83,215.58 392.00,216.60 C390.17,217.62 387.92,218.17 386.00,218.60 C384.08,219.03 381.42,219.10 380.50,219.20 Z" fill="#e0acbb" fill-opacity="0.66"/>
<path d="M380.60,219.20 C381.38,218.78 383.93,217.58 385.27,216.70 C386.61,215.82 387.50,214.98 388.64,213.90 C389.78,212.82 391.06,211.45 392.10,210.20 C393.14,208.95 393.98,207.73 394.90,206.40 C395.82,205.07 396.73,203.60 397.60,202.20 C398.47,200.80 399.18,199.70 400.10,198.00 C401.02,196.30 402.12,194.00 403.10,192.00 C404.08,190.00 405.00,188.17 406.00,186.00 C407.00,183.83 408.00,181.50 409.10,179.00 C410.20,176.50 411.45,173.62 412.60,171.00 C413.75,168.38 414.92,165.72 416.00,163.30 C417.08,160.88 418.03,158.67 419.10,156.50 C420.17,154.33 421.25,152.18 422.40,150.30 C423.55,148.42 424.80,146.70 426.02,145.20 C427.24,143.70 428.49,142.37 429.74,141.30 C430.99,140.23 432.21,139.40 433.50,138.80 C434.79,138.20 436.25,137.83 437.50,137.70 C438.75,137.57 439.83,137.65 441.00,138.00 C442.17,138.35 443.33,138.97 444.50,139.80 C445.67,140.63 446.92,141.85 448.00,143.00 C449.08,144.15 450.05,145.45 451.00,146.70 C451.95,147.95 452.70,148.95 453.70,150.50 C454.70,152.05 455.95,154.17 457.00,156.00 C458.05,157.83 459.00,159.67 460.00,161.50 C461.00,163.33 461.95,165.08 463.00,167.00 C464.05,168.92 465.22,170.95 466.30,173.00 C467.38,175.05 468.28,177.05 469.50,179.30 C470.72,181.55 472.27,184.30 473.60,186.50 C474.93,188.70 476.23,190.67 477.50,192.50 C478.77,194.33 479.92,195.87 481.25,197.50 C482.58,199.13 484.04,200.80 485.50,202.30 C486.96,203.80 488.30,205.12 490.00,206.50 C491.70,207.88 494.03,209.58 495.70,210.60 C497.37,211.62 498.45,212.08 500.00,212.60 C501.55,213.12 503.33,213.50 505.00,213.70 C506.67,213.90 508.33,213.98 510.00,213.80 C511.67,213.62 513.33,213.08 515.00,212.60 C516.67,212.12 517.92,211.60 520.00,210.90 C522.08,210.20 524.83,209.12 527.50,208.40 C530.17,207.68 533.25,206.95 536.00,206.60 C538.75,206.25 541.25,206.18 544.00,206.30 C546.75,206.42 549.83,206.95 552.50,207.30 C555.17,207.65 557.08,207.95 560.00,208.40 C562.92,208.85 566.67,209.47 570.00,210.00 C573.33,210.53 576.85,211.10 580.00,211.60 C583.15,212.10 585.00,212.55 588.90,213.00 C592.80,213.45 598.58,214.10 603.40,214.30 C608.22,214.50 612.98,214.38 617.80,214.20 C622.62,214.02 628.53,213.48 632.30,213.20 C636.07,212.92 639.05,212.62 640.40,212.50" fill="none" stroke="#c97489" stroke-width="2.3"/>
<path d="M380.30,219.20 C380.47,216.83 380.88,209.87 381.30,205.00 C381.72,200.13 382.30,195.00 382.80,190.00 C383.30,185.00 383.80,180.00 384.30,175.00 C384.80,170.00 385.33,165.00 385.80,160.00 C386.27,155.00 386.68,150.33 387.10,145.00 C387.52,139.67 387.98,132.67 388.30,128.00 C388.62,123.33 388.75,120.83 389.00,117.00 C389.25,113.17 389.50,109.00 389.80,105.00 C390.10,101.00 390.43,96.67 390.80,93.00 C391.17,89.33 391.55,85.92 392.00,83.00 C392.45,80.08 393.00,77.37 393.50,75.50 C394.00,73.63 394.50,72.62 395.00,71.80 C395.50,70.98 396.00,70.57 396.50,70.60 C397.00,70.63 397.53,70.93 398.00,72.00 C398.47,73.07 398.88,75.00 399.30,77.00 C399.72,79.00 400.08,81.67 400.50,84.00 C400.92,86.33 401.38,89.00 401.80,91.00 C402.22,93.00 402.67,94.50 403.00,96.00 C403.33,97.50 403.53,97.67 403.80,100.00 C404.07,102.33 404.32,107.00 404.60,110.00 C404.88,113.00 405.15,115.50 405.50,118.00 C405.85,120.50 406.25,122.67 406.70,125.00 C407.15,127.33 407.72,130.08 408.20,132.00 C408.68,133.92 409.02,135.27 409.60,136.50 C410.18,137.73 410.88,138.72 411.70,139.40 C412.52,140.08 413.60,140.27 414.50,140.60 C415.40,140.93 416.18,141.08 417.10,141.40 C418.02,141.72 419.10,141.90 420.00,142.50 C420.90,143.10 421.78,143.75 422.50,145.00 C423.22,146.25 423.52,147.53 424.30,150.00 C425.08,152.47 426.07,156.55 427.20,159.80 C428.33,163.05 429.63,167.05 431.10,169.50 C432.57,171.95 434.27,173.17 436.00,174.50 C437.73,175.83 439.97,175.88 441.50,177.50 C443.03,179.12 443.37,181.72 445.20,184.20 C447.03,186.68 450.05,190.85 452.50,192.40 C454.95,193.95 457.75,192.42 459.90,193.50 C462.05,194.58 463.57,196.78 465.40,198.90 C467.23,201.02 469.13,204.43 470.90,206.20 C472.67,207.97 474.15,208.53 476.00,209.50 C477.85,210.47 479.67,211.22 482.00,212.00 C484.33,212.78 487.00,213.50 490.00,214.20 C493.00,214.90 496.67,215.62 500.00,216.20 C503.33,216.78 506.67,217.30 510.00,217.70 C513.33,218.10 516.67,218.35 520.00,218.60 C523.33,218.85 528.33,219.10 530.00,219.20 L530.00,219.20 C525.00,219.20 508.33,219.28 500.00,219.20 C491.67,219.12 485.17,218.97 480.00,218.70 C474.83,218.43 472.05,218.00 469.00,217.60 C465.95,217.20 464.45,216.90 461.70,216.30 C458.95,215.70 455.30,214.53 452.50,214.00 C449.70,213.47 447.15,213.43 444.90,213.10 C442.65,212.77 440.95,212.58 439.00,212.00 C437.05,211.42 435.15,210.38 433.20,209.60 C431.25,208.82 428.97,207.50 427.30,207.30 C425.63,207.10 424.47,208.40 423.20,208.40 C421.93,208.40 420.73,208.37 419.70,207.30 C418.67,206.23 417.88,203.67 417.00,202.00 C416.12,200.33 415.40,197.47 414.40,197.30 C413.40,197.13 411.98,199.80 411.00,201.00 C410.02,202.20 409.20,203.65 408.50,204.50 C407.80,205.35 407.72,206.68 406.80,206.10 C405.88,205.52 403.93,203.68 403.00,201.00 C402.07,198.32 401.62,195.17 401.20,190.00 C400.78,184.83 400.70,175.83 400.50,170.00 C400.30,164.17 400.22,159.17 400.00,155.00 C399.78,150.83 399.43,147.83 399.20,145.00 C398.97,142.17 398.87,141.33 398.60,138.00 C398.33,134.67 397.90,128.67 397.60,125.00 C397.30,121.33 397.03,118.58 396.80,116.00 C396.57,113.42 396.47,111.08 396.20,109.50 C395.93,107.92 395.53,106.83 395.20,106.50 C394.87,106.17 394.48,106.75 394.20,107.50 C393.92,108.25 393.70,109.42 393.50,111.00 C393.30,112.58 393.15,114.67 393.00,117.00 C392.85,119.33 392.80,122.00 392.60,125.00 C392.40,128.00 392.13,132.00 391.80,135.00 C391.47,138.00 390.97,140.50 390.60,143.00 C390.23,145.50 389.97,147.17 389.60,150.00 C389.23,152.83 388.80,156.67 388.40,160.00 C388.00,163.33 387.62,165.83 387.20,170.00 C386.78,174.17 386.38,180.00 385.90,185.00 C385.42,190.00 384.87,195.50 384.30,200.00 C383.73,204.50 383.00,208.80 382.50,212.00 C382.00,215.20 381.50,218.00 381.30,219.20 Z" fill="#9cc6e7" fill-opacity="0.42"/>
<path d="M380.60,219.00 C380.72,218.17 381.07,215.83 381.30,214.00 C381.53,212.17 381.75,210.33 382.00,208.00 C382.25,205.67 382.45,202.53 382.80,200.00 C383.15,197.47 383.65,196.73 384.10,192.80 C384.55,188.87 385.05,181.87 385.50,176.40 C385.95,170.93 386.35,166.07 386.80,160.00 C387.25,153.93 387.75,146.67 388.20,140.00 C388.65,133.33 389.07,126.67 389.50,120.00 C389.93,113.33 390.42,105.00 390.80,100.00 C391.18,95.00 391.50,92.78 391.80,90.00 C392.10,87.22 392.33,85.13 392.60,83.30 C392.87,81.47 393.12,80.30 393.40,79.00 C393.68,77.70 393.85,76.45 394.30,75.50 C394.75,74.55 395.63,73.13 396.10,73.30 C396.57,73.47 396.83,75.33 397.10,76.50 C397.37,77.67 397.52,79.05 397.70,80.30 C397.88,81.55 398.03,82.63 398.20,84.00 C398.37,85.37 398.47,85.83 398.70,88.50 C398.93,91.17 399.32,95.58 399.60,100.00 C399.88,104.42 400.12,110.00 400.40,115.00 C400.68,120.00 401.03,125.00 401.30,130.00 C401.57,135.00 401.73,140.83 402.00,145.00 C402.27,149.17 402.63,152.00 402.90,155.00 C403.17,158.00 403.35,160.67 403.60,163.00 C403.85,165.33 404.00,167.58 404.40,169.00 C404.80,170.42 405.40,171.08 406.00,171.50 C406.60,171.92 407.33,172.42 408.00,171.50 C408.67,170.58 409.40,168.00 410.00,166.00 C410.60,164.00 411.10,161.17 411.60,159.50 C412.10,157.83 412.43,156.82 413.00,156.00 C413.57,155.18 414.43,154.23 415.00,154.60 C415.57,154.97 416.00,156.80 416.40,158.20 C416.80,159.60 416.98,161.03 417.40,163.00 C417.82,164.97 418.42,167.97 418.90,170.00 C419.38,172.03 419.90,173.53 420.30,175.20 C420.70,176.87 420.92,178.37 421.30,180.00 C421.68,181.63 422.07,183.92 422.60,185.00 C423.13,186.08 423.92,186.40 424.50,186.50 C425.08,186.60 425.43,185.80 426.10,185.60 C426.77,185.40 427.77,184.82 428.50,185.30 C429.23,185.78 429.62,187.95 430.50,188.50 C431.38,189.05 432.77,188.25 433.80,188.60 C434.83,188.95 435.97,189.73 436.70,190.60 C437.43,191.47 437.60,192.80 438.20,193.80 C438.80,194.80 439.48,195.95 440.30,196.60 C441.12,197.25 442.13,197.53 443.10,197.70 C444.07,197.87 445.20,197.22 446.10,197.60 C447.00,197.98 447.73,199.18 448.50,200.00 C449.27,200.82 449.87,201.58 450.70,202.50 C451.53,203.42 452.58,204.73 453.50,205.50 C454.42,206.27 455.28,206.88 456.20,207.10 C457.12,207.32 458.08,206.88 459.00,206.80 C459.92,206.72 460.78,206.57 461.70,206.60 C462.62,206.63 463.73,206.77 464.50,207.00 C465.27,207.23 465.63,207.42 466.30,208.00 C466.97,208.58 467.73,209.77 468.50,210.50 C469.27,211.23 469.90,212.02 470.90,212.40 C471.90,212.78 473.28,212.77 474.50,212.80 C475.72,212.83 477.12,212.73 478.20,212.60 C479.28,212.47 480.08,212.13 481.00,212.00 C481.92,211.87 482.70,211.55 483.70,211.80 C484.70,212.05 485.78,212.90 487.00,213.50 C488.22,214.10 489.67,214.95 491.00,215.40 C492.33,215.85 493.77,216.03 495.00,216.20 C496.23,216.37 497.40,216.43 498.40,216.40 C499.40,216.37 500.08,216.10 501.00,216.00 C501.92,215.90 502.90,215.67 503.90,215.80 C504.90,215.93 505.65,216.50 507.00,216.80 C508.35,217.10 509.83,217.42 512.00,217.60 C514.17,217.78 515.33,217.83 520.00,217.90 C524.67,217.97 520.00,217.98 540.00,218.00 C560.00,218.02 623.33,218.00 640.00,218.00" fill="none" stroke="#6eb1e4" stroke-width="1.9" stroke-dasharray="1.85 1.7"/>
<path d="M380.50,31.30 C381.35,31.90 383.68,33.35 385.60,34.90 C387.52,36.45 389.93,38.75 392.00,40.60 C394.07,42.45 395.92,44.13 398.00,46.00 C400.08,47.87 401.58,49.20 404.50,51.80 C407.42,54.40 411.62,58.43 415.50,61.60 C419.38,64.77 423.72,67.90 427.80,70.80 C431.88,73.70 435.90,76.42 440.00,79.00 C444.10,81.58 448.13,83.87 452.40,86.30 C456.67,88.73 461.25,91.32 465.60,93.60 C469.95,95.88 474.10,97.95 478.50,100.00 C482.90,102.05 487.50,103.95 492.00,105.90 C496.50,107.85 500.93,109.88 505.50,111.70 C510.07,113.52 514.82,115.15 519.40,116.80 C523.98,118.45 528.38,120.05 533.00,121.60 C537.62,123.15 542.35,124.73 547.10,126.10 C551.85,127.47 556.77,128.63 561.50,129.80 C566.23,130.97 570.77,132.00 575.50,133.10 C580.23,134.20 585.15,135.30 589.90,136.40 C594.65,137.50 599.40,138.67 604.00,139.70 C608.60,140.73 612.85,141.68 617.50,142.60 C622.15,143.52 628.07,144.53 631.90,145.20 C635.73,145.87 639.07,146.37 640.50,146.60" fill="none" stroke="#848484" stroke-width="1.5" stroke-dasharray="7.4 7.4" stroke-dashoffset="1.4"/>
<path d="M390.10,40.35 L392.40,42.65 M390.10,42.65 L392.40,40.35" stroke="#1e1e1e" stroke-width="0.95" fill="none"/>
<path d="M390.10,43.85 L392.40,46.15 M390.10,46.15 L392.40,43.85" stroke="#1e1e1e" stroke-width="0.95" fill="none"/>
<path d="M394.75,44.25 L397.05,46.55 M394.75,46.55 L397.05,44.25" stroke="#1e1e1e" stroke-width="0.95" fill="none"/>
<path d="M395.15,47.35 L397.45,49.65 M395.15,49.65 L397.45,47.35" stroke="#1e1e1e" stroke-width="0.95" fill="none"/>
<path d="M399.05,44.65 L401.35,46.95 M399.05,46.95 L401.35,44.65" stroke="#1e1e1e" stroke-width="0.95" fill="none"/>
<path d="M398.65,49.35 L400.95,51.65 M398.65,51.65 L400.95,49.35" stroke="#1e1e1e" stroke-width="0.95" fill="none"/>
<path d="M403.35,50.85 L405.65,53.15 M403.35,53.15 L405.65,50.85" stroke="#1e1e1e" stroke-width="0.95" fill="none"/>
<path d="M404.95,52.85 L407.25,55.15 M404.95,55.15 L407.25,52.85" stroke="#1e1e1e" stroke-width="0.95" fill="none"/>
<path d="M408.55,67.15 L410.85,69.45 M408.55,69.45 L410.85,67.15" stroke="#1e1e1e" stroke-width="0.95" fill="none"/>
<path d="M416.75,59.75 L419.05,62.05 M416.75,62.05 L419.05,59.75" stroke="#1e1e1e" stroke-width="0.95" fill="none"/>
<path d="M416.35,64.05 L418.65,66.35 M416.35,66.35 L418.65,64.05" stroke="#1e1e1e" stroke-width="0.95" fill="none"/>
<path d="M419.85,67.55 L422.15,69.85 M419.85,69.85 L422.15,67.55" stroke="#1e1e1e" stroke-width="0.95" fill="none"/>
<path d="M425.05,79.25 L427.35,81.55 M425.05,81.55 L427.35,79.25" stroke="#1e1e1e" stroke-width="0.95" fill="none"/>
<path d="M428.35,81.95 L430.65,84.25 M428.35,84.25 L430.65,81.95" stroke="#1e1e1e" stroke-width="0.95" fill="none"/>
<path d="M428.35,85.25 L430.65,87.55 M428.35,87.55 L430.65,85.25" stroke="#1e1e1e" stroke-width="0.95" fill="none"/>
<path d="M434.85,80.85 L437.15,83.15 M434.85,83.15 L437.15,80.85 M436.00,79.50 V84.50" stroke="#1e1e1e" stroke-width="0.95" fill="none"/>
<path d="M435.35,77.35 L437.65,79.65 M435.35,79.65 L437.65,77.35" stroke="#1e1e1e" stroke-width="0.95" fill="none"/>
<path d="M439.25,82.55 L441.55,84.85 M439.25,84.85 L441.55,82.55 M440.40,80.90 V86.50" stroke="#1e1e1e" stroke-width="0.95" fill="none"/>
<path d="M443.25,92.95 L445.55,95.25 M443.25,95.25 L445.55,92.95" stroke="#1e1e1e" stroke-width="0.95" fill="none"/>
<path d="M448.15,88.55 L450.45,90.85 M448.15,90.85 L450.45,88.55" stroke="#1e1e1e" stroke-width="0.95" fill="none"/>
<path d="M448.15,91.05 L450.45,93.35 M448.15,93.35 L450.45,91.05" stroke="#1e1e1e" stroke-width="0.95" fill="none"/>
<path d="M456.45,96.35 L458.75,98.65 M456.45,98.65 L458.75,96.35" stroke="#1e1e1e" stroke-width="0.95" fill="none"/>
<path d="M464.25,98.85 L466.55,101.15 M464.25,101.15 L466.55,98.85" stroke="#1e1e1e" stroke-width="0.95" fill="none"/>
<path d="M467.15,87.15 L469.45,89.45 M467.15,89.45 L469.45,87.15 M468.30,86.50 V90.10" stroke="#1e1e1e" stroke-width="0.95" fill="none"/>
<path d="M477.65,93.75 L479.95,96.05 M477.65,96.05 L479.95,93.75 M478.80,93.10 V96.70" stroke="#1e1e1e" stroke-width="0.95" fill="none"/>
<path d="M473.25,105.35 L475.55,107.65 M473.25,107.65 L475.55,105.35 M474.40,102.90 V110.10" stroke="#1e1e1e" stroke-width="0.95" fill="none"/>
<path d="M483.95,107.85 L486.25,110.15 M483.95,110.15 L486.25,107.85 M485.10,105.40 V112.60" stroke="#1e1e1e" stroke-width="0.95" fill="none"/>
<path d="M496.25,119.35 L498.55,121.65 M496.25,121.65 L498.55,119.35" stroke="#1e1e1e" stroke-width="0.95" fill="none"/>
<path d="M502.45,111.05 L504.75,113.35 M502.45,113.35 L504.75,111.05" stroke="#1e1e1e" stroke-width="0.95" fill="none"/>
<path d="M502.45,114.45 L504.75,116.75 M502.45,116.75 L504.75,114.45" stroke="#1e1e1e" stroke-width="0.95" fill="none"/>
<path d="M508.45,117.25 L510.75,119.55 M508.45,119.55 L510.75,117.25" stroke="#1e1e1e" stroke-width="0.95" fill="none"/>
<path d="M511.95,117.45 L514.25,119.75 M511.95,119.75 L514.25,117.45" stroke="#1e1e1e" stroke-width="0.95" fill="none"/>
<path d="M511.95,121.35 L514.25,123.65 M511.95,123.65 L514.25,121.35" stroke="#1e1e1e" stroke-width="0.95" fill="none"/>
<path d="M525.45,122.85 L527.75,125.15 M525.45,125.15 L527.75,122.85 M526.60,120.60 V127.40" stroke="#1e1e1e" stroke-width="0.95" fill="none"/>
<path d="M533.95,123.05 L536.25,125.35 M533.95,125.35 L536.25,123.05" stroke="#1e1e1e" stroke-width="0.95" fill="none"/>
<path d="M542.25,126.95 L544.55,129.25 M542.25,129.25 L544.55,126.95" stroke="#1e1e1e" stroke-width="0.95" fill="none"/>
<path d="M550.55,131.85 L552.85,134.15 M550.55,134.15 L552.85,131.85" stroke="#1e1e1e" stroke-width="0.95" fill="none"/>
<path d="M558.85,128.85 L561.15,131.15 M558.85,131.15 L561.15,128.85" stroke="#1e1e1e" stroke-width="0.95" fill="none"/>
<path d="M562.85,128.85 L565.15,131.15 M562.85,131.15 L565.15,128.85 M564.00,126.20 V133.80" stroke="#1e1e1e" stroke-width="0.95" fill="none"/>
<path d="M580.55,132.85 L582.85,135.15 M580.55,135.15 L582.85,132.85 M581.70,131.00 V137.00" stroke="#1e1e1e" stroke-width="0.95" fill="none"/>
<path d="M579.35,143.25 L581.65,145.55 M579.35,145.55 L581.65,143.25" stroke="#1e1e1e" stroke-width="0.95" fill="none"/>
<path d="M592.85,139.85 L595.15,142.15 M592.85,142.15 L595.15,139.85 M594.00,138.30 V143.70" stroke="#1e1e1e" stroke-width="0.95" fill="none"/>
<path d="M607.55,140.85 L609.85,143.15 M607.55,143.15 L609.85,140.85" stroke="#1e1e1e" stroke-width="0.95" fill="none"/>
<path d="M380.60,202.10 V208.70 M378.60,202.10 H382.60 M378.60,208.70 H382.60" stroke="#6a2460" stroke-width="0.95" fill="none"/>
<circle cx="380.60" cy="205.40" r="2.05" fill="#6a2460"/>
<path d="M391.70,203.20 V212.80 M389.70,203.20 H393.70 M389.70,212.80 H393.70" stroke="#6a2460" stroke-width="0.95" fill="none"/>
<circle cx="391.70" cy="208.00" r="2.05" fill="#6a2460"/>
<path d="M398.20,190.70 V196.70 M396.20,190.70 H400.20 M396.20,196.70 H400.20" stroke="#6a2460" stroke-width="0.95" fill="none"/>
<circle cx="398.20" cy="193.70" r="2.05" fill="#6a2460"/>
<path d="M405.00,170.70 V183.70 M403.00,170.70 H407.00 M403.00,183.70 H407.00" stroke="#6a2460" stroke-width="0.95" fill="none"/>
<circle cx="405.00" cy="177.20" r="2.05" fill="#6a2460"/>
<path d="M409.60,159.90 V167.90 M407.60,159.90 H411.60 M407.60,167.90 H411.60" stroke="#6a2460" stroke-width="0.95" fill="none"/>
<circle cx="409.60" cy="163.90" r="2.05" fill="#6a2460"/>
<path d="M419.20,141.70 V147.30 M417.20,141.70 H421.20 M417.20,147.30 H421.20" stroke="#6a2460" stroke-width="0.95" fill="none"/>
<circle cx="419.20" cy="144.50" r="2.05" fill="#6a2460"/>
<path d="M426.10,135.00 V143.20 M424.10,135.00 H428.10 M424.10,143.20 H428.10" stroke="#6a2460" stroke-width="0.95" fill="none"/>
<circle cx="426.10" cy="139.10" r="2.05" fill="#6a2460"/>
<path d="M429.70,132.40 V143.40 M427.70,132.40 H431.70 M427.70,143.40 H431.70" stroke="#6a2460" stroke-width="0.95" fill="none"/>
<circle cx="429.70" cy="137.90" r="2.05" fill="#6a2460"/>
<path d="M436.30,147.40 V154.40 M434.30,147.40 H438.30 M434.30,154.40 H438.30" stroke="#6a2460" stroke-width="0.95" fill="none"/>
<circle cx="436.30" cy="150.90" r="2.05" fill="#6a2460"/>
<path d="M442.70,143.40 V148.80 M440.70,143.40 H444.70 M440.70,148.80 H444.70" stroke="#6a2460" stroke-width="0.95" fill="none"/>
<circle cx="442.70" cy="146.10" r="2.05" fill="#6a2460"/>
<path d="M449.30,151.20 V158.20 M447.30,151.20 H451.30 M447.30,158.20 H451.30" stroke="#6a2460" stroke-width="0.95" fill="none"/>
<circle cx="449.30" cy="154.70" r="2.05" fill="#6a2460"/>
<path d="M457.50,158.20 V168.60 M455.50,158.20 H459.50 M455.50,168.60 H459.50" stroke="#6a2460" stroke-width="0.95" fill="none"/>
<circle cx="457.50" cy="163.40" r="2.05" fill="#6a2460"/>
<path d="M467.20,174.10 V181.10 M465.20,174.10 H469.20 M465.20,181.10 H469.20" stroke="#6a2460" stroke-width="0.95" fill="none"/>
<circle cx="467.20" cy="177.60" r="2.05" fill="#6a2460"/>
<path d="M476.90,190.10 V196.10 M474.90,190.10 H478.90 M474.90,196.10 H478.90" stroke="#6a2460" stroke-width="0.95" fill="none"/>
<circle cx="476.90" cy="193.10" r="2.05" fill="#6a2460"/>
<path d="M485.60,192.90 V199.90 M483.60,192.90 H487.60 M483.60,199.90 H487.60" stroke="#6a2460" stroke-width="0.95" fill="none"/>
<circle cx="485.60" cy="196.40" r="2.05" fill="#6a2460"/>
<path d="M497.10,204.60 V215.40 M495.10,204.60 H499.10 M495.10,215.40 H499.10" stroke="#6a2460" stroke-width="0.95" fill="none"/>
<circle cx="497.10" cy="210.00" r="2.05" fill="#6a2460"/>
<path d="M503.75,208.60 V215.80 M501.75,208.60 H505.75 M501.75,215.80 H505.75" stroke="#6a2460" stroke-width="0.95" fill="none"/>
<circle cx="503.75" cy="212.20" r="2.05" fill="#6a2460"/>
<path d="M511.50,210.60 V220.60 M509.50,210.60 H513.50 M509.50,220.60 H513.50" stroke="#6a2460" stroke-width="0.95" fill="none"/>
<circle cx="511.50" cy="215.60" r="2.05" fill="#6a2460"/>
<path d="M526.90,200.45 V209.95 M524.90,200.45 H528.90 M524.90,209.95 H528.90" stroke="#6a2460" stroke-width="0.95" fill="none"/>
<circle cx="526.90" cy="205.20" r="2.05" fill="#6a2460"/>
<path d="M535.40,202.00 V217.40 M533.40,202.00 H537.40 M533.40,217.40 H537.40" stroke="#6a2460" stroke-width="0.95" fill="none"/>
<circle cx="535.40" cy="209.70" r="2.05" fill="#6a2460"/>
<path d="M543.75,204.50 V212.50 M541.75,204.50 H545.75 M541.75,212.50 H545.75" stroke="#6a2460" stroke-width="0.95" fill="none"/>
<circle cx="543.75" cy="208.50" r="2.05" fill="#6a2460"/>
<path d="M551.50,208.20 V221.20 M549.50,208.20 H553.50 M549.50,221.20 H553.50" stroke="#6a2460" stroke-width="0.95" fill="none"/>
<circle cx="551.50" cy="214.70" r="2.05" fill="#6a2460"/>
<path d="M562.25,202.30 V209.50 M560.25,202.30 H564.25 M560.25,209.50 H564.25" stroke="#6a2460" stroke-width="0.95" fill="none"/>
<circle cx="562.25" cy="205.90" r="2.05" fill="#6a2460"/>
<path d="M581.00,198.20 V205.80 M579.00,198.20 H583.00 M579.00,205.80 H583.00" stroke="#6a2460" stroke-width="0.95" fill="none"/>
<circle cx="581.00" cy="202.00" r="2.05" fill="#6a2460"/>
<path d="M594.00,194.40 V205.00 M592.00,194.40 H596.00 M592.00,205.00 H596.00" stroke="#6a2460" stroke-width="0.95" fill="none"/>
<circle cx="594.00" cy="199.70" r="2.05" fill="#6a2460"/>
<path d="M608.80,196.80 V207.80 M606.80,196.80 H610.80 M606.80,207.80 H610.80" stroke="#6a2460" stroke-width="0.95" fill="none"/>
<circle cx="608.80" cy="202.30" r="2.05" fill="#6a2460"/>
</g>
<path d="M380.4,14 V219.2 H640.6 V14" fill="none" stroke="#6e6e6e" stroke-width="1"/>
<line x1="380.4" y1="172.70" x2="385" y2="172.70" stroke="#6e6e6e" stroke-width="1"/>
<line x1="380.4" y1="126.20" x2="385" y2="126.20" stroke="#6e6e6e" stroke-width="1"/>
<line x1="380.4" y1="79.70" x2="385" y2="79.70" stroke="#6e6e6e" stroke-width="1"/>
<line x1="380.4" y1="33.20" x2="385" y2="33.20" stroke="#6e6e6e" stroke-width="1"/>
<line x1="636" y1="174.45" x2="640.6" y2="174.45" stroke="#6e6e6e" stroke-width="1"/>
<line x1="636" y1="129.70" x2="640.6" y2="129.70" stroke="#6e6e6e" stroke-width="1"/>
<line x1="636" y1="84.95" x2="640.6" y2="84.95" stroke="#6e6e6e" stroke-width="1"/>
<line x1="636" y1="40.20" x2="640.6" y2="40.20" stroke="#6e6e6e" stroke-width="1"/>
<line x1="445.40" y1="219.2" x2="445.40" y2="214.6" stroke="#6e6e6e" stroke-width="1"/>
<line x1="510.40" y1="219.2" x2="510.40" y2="214.6" stroke="#6e6e6e" stroke-width="1"/>
<line x1="575.40" y1="219.2" x2="575.40" y2="214.6" stroke="#6e6e6e" stroke-width="1"/>
<path d="M521.20,25.60 H531.00 M521.20,23.60 V27.60 M531.00,23.60 V27.60 M526.10,21.00 V30.20 M524.10,21.00 H528.10 M524.10,30.20 H528.10" stroke="#6a2460" stroke-width="0.9" fill="none"/>
<circle cx="526.10" cy="25.60" r="2.05" fill="#6a2460"/>
<path d="M524.10,36.60 L528.10,40.60 M524.10,40.60 L528.10,36.60" stroke="#4a4a4a" stroke-width="0.75"/>
<line x1="517" y1="51.60" x2="535.4" y2="51.60" stroke="#dc9cad" stroke-width="3.7"/>
<rect x="517.05" y="63.20" width="2.4" height="2.4" fill="#8ac2ea"/>
<rect x="521.90" y="63.20" width="2.4" height="2.4" fill="#8ac2ea"/>
<rect x="526.75" y="63.20" width="2.4" height="2.4" fill="#8ac2ea"/>
<rect x="531.60" y="63.20" width="2.4" height="2.4" fill="#8ac2ea"/>
<rect x="516.7" y="76.65" width="5.5" height="1.3" fill="#6b6b6b"/>
<rect x="526.8" y="76.65" width="5.5" height="1.3" fill="#6b6b6b"/>
<text x="37.60" y="223.12" text-anchor="end" font-size="11">350</text>
<text x="37.60" y="197.38" text-anchor="end" font-size="11">400</text>
<text x="37.60" y="171.64" text-anchor="end" font-size="11">450</text>
<text x="37.60" y="145.90" text-anchor="end" font-size="11">500</text>
<text x="37.60" y="120.16" text-anchor="end" font-size="11">550</text>
<text x="37.60" y="94.42" text-anchor="end" font-size="11">600</text>
<text x="37.60" y="68.68" text-anchor="end" font-size="11">650</text>
<text x="37.60" y="42.94" text-anchor="end" font-size="11">700</text>
<text x="37.60" y="17.20" text-anchor="end" font-size="11">750</text>
<text x="43.10" y="232.80" text-anchor="middle" font-size="11">0</text>
<text x="86.21" y="232.80" text-anchor="middle" font-size="11"> 00</text>
<path d="M79.800,232.800 L79.800,226.156 L78.092,227.375 L78.092,226.462 L79.880,225.232 L80.772,225.232 L80.772,232.800 Z" fill="#231f20" stroke="#231f20" stroke-width="0.22" stroke-linejoin="round"/>
<text x="129.32" y="232.80" text-anchor="middle" font-size="11">200</text>
<text x="172.43" y="232.80" text-anchor="middle" font-size="11">300</text>
<text x="215.54" y="232.80" text-anchor="middle" font-size="11">400</text>
<text x="258.65" y="232.80" text-anchor="middle" font-size="11">500</text>
<text x="301.76" y="232.80" text-anchor="middle" font-size="11">600</text>
<text x="175.60" y="251.20" text-anchor="middle" font-size="11" >G<tspan font-size="7.8" dy="3.1">3</tspan><tspan dy="-3.1"> position (nm)</tspan></text>
<text x="8.8" y="117.5" text-anchor="middle" font-size="11" transform="rotate(-90 8.8 117.5)">Counts</text>
<text x="-0.3" y="10.7" font-size="15.5" font-weight="bold" style="stroke-width:0.45px;stroke-linejoin:round">a</text>
<text x="334.5" y="10.7" font-size="15.5" font-weight="bold" style="stroke-width:0.45px;stroke-linejoin:round">b</text>
<text x="375.20" y="223.10" text-anchor="end" font-size="11">0</text>
<text x="375.20" y="176.60" text-anchor="end" font-size="11">0.05</text>
<text x="375.20" y="130.10" text-anchor="end" font-size="11">0. 0</text>
<path d="M365.731,130.100 L365.731,123.456 L364.023,124.675 L364.023,123.762 L365.811,122.532 L366.703,122.532 L366.703,130.100 Z" fill="#231f20" stroke="#231f20" stroke-width="0.22" stroke-linejoin="round"/>
<text x="375.20" y="83.60" text-anchor="end" font-size="11">0. 5</text>
<path d="M365.731,83.600 L365.731,76.956 L364.023,78.175 L364.023,77.262 L365.811,76.032 L366.703,76.032 L366.703,83.600 Z" fill="#231f20" stroke="#231f20" stroke-width="0.22" stroke-linejoin="round"/>
<text x="375.20" y="37.10" text-anchor="end" font-size="11">0.20</text>
<text x="645.80" y="223.10" text-anchor="start" font-size="11">0</text>
<text x="645.80" y="178.35" text-anchor="start" font-size="11">0.05</text>
<text x="645.80" y="133.60" text-anchor="start" font-size="11">0. </text>
<path d="M657.740,133.600 L657.740,126.956 L656.032,128.175 L656.032,127.262 L657.821,126.032 L658.712,126.032 L658.712,133.600 Z" fill="#231f20" stroke="#231f20" stroke-width="0.22" stroke-linejoin="round"/>
<text x="645.80" y="88.85" text-anchor="start" font-size="11">0. 5</text>
<path d="M657.740,88.850 L657.740,82.206 L656.032,83.425 L656.032,82.512 L657.821,81.282 L658.712,81.282 L658.712,88.850 Z" fill="#231f20" stroke="#231f20" stroke-width="0.22" stroke-linejoin="round"/>
<text x="645.80" y="44.10" text-anchor="start" font-size="11">0.2</text>
<text x="380.40" y="232.80" text-anchor="middle" font-size="11">0</text>
<text x="445.40" y="232.80" text-anchor="middle" font-size="11">20</text>
<text x="510.40" y="232.80" text-anchor="middle" font-size="11">40</text>
<text x="575.40" y="232.80" text-anchor="middle" font-size="11">60</text>
<text x="640.40" y="232.80" text-anchor="middle" font-size="11">80</text>
<text x="510.30" y="251.20" text-anchor="middle" font-size="11" >Grating laser power <tspan font-style="italic">P</tspan><tspan font-size="7.8" dy="3.1">2</tspan><tspan dy="-3.1"> (mW)</tspan></text>
<text x="344.2" y="117.2" text-anchor="middle" font-size="11" transform="rotate(-90 344.2 117.2)">Visibility</text>
<text x="684.2" y="117.6" text-anchor="middle" font-size="11" transform="rotate(-90 684.2 117.6)">Transmission</text>
<text x="540.70" y="29.10" text-anchor="start" font-size="11" >Data visibility</text>
<text x="540.70" y="42.10" text-anchor="start" font-size="11" >Data transmission</text>
<text x="540.70" y="55.10" text-anchor="start" font-size="11" >Quantum visibility</text>
<text x="540.70" y="67.90" text-anchor="start" font-size="11" >Classical visibility</text>
<text x="540.70" y="80.80" text-anchor="start" font-size="11" >Transmission</text>
</svg>
</body></html>
